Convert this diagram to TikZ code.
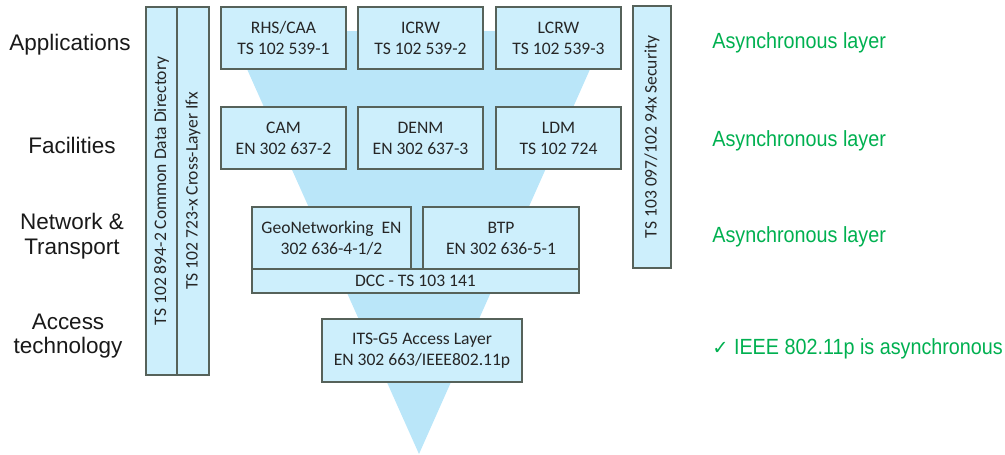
\documentclass[tikz,border=0pt]{standalone}
\usepackage{fontspec}
\setmainfont{Carlito}
\newfontfamily\layerfont{Liberation Sans}
\newfontfamily\notefont[FakeStretch=0.9]{Liberation Sans}
\newfontfamily\symfont{DejaVu Sans}
\usepackage{tikz}
\usetikzlibrary{positioning}
\definecolor{BoxFill}{HTML}{CDEFFC}
\definecolor{FunnelBlue}{HTML}{BAE6F9}
\definecolor{BoxEdge}{HTML}{56625A}
\definecolor{NoteGreen}{HTML}{00B050}
\tikzset{
  stdbox/.style={rectangle, draw=BoxEdge, fill=BoxFill, line width=0.7pt, inner sep=1pt, align=center, font=\fontsize{10}{12}\selectfont, text=black!85, minimum width=2.5cm, minimum height=1.24cm},
  sidebox/.style={stdbox, rotate=90},
  layerlabel/.style={font=\layerfont\fontsize{12.8}{14}\selectfont, align=center, text=black!90},
  asyncnote/.style={font=\notefont\fontsize{12.5}{14}\selectfont, text=NoteGreen, anchor=west, inner sep=0pt}
}

\begin{document}
\begin{tikzpicture}[x=0.02cm, y=-0.02cm]
  \useasboundingbox (0,0) rectangle (1005,454);

  % funnel behind the stack
  \fill[FunnelBlue] (230,31) -- (607,31) -- (419,454) -- cycle;

  % layer names
  \node[layerlabel] (lapp) at (70,45) {Applications};
  \node[layerlabel] (lfac) at (72,145) {Facilities};
  \node[layerlabel] (lnet) at (72,236) {Network \&\\Transport};
  \node[layerlabel] (lacc) at (68,336) {Access\\technology};

  % cross-layer columns
  \node[sidebox, minimum width=7.36cm, minimum height=0.62cm] (cdd) at (161.5,191) {TS 102 894-2 Common Data Directory};
  \node[sidebox, minimum width=7.36cm, minimum height=0.64cm] (clx) at (193,191) {TS 102 723-x Cross-Layer Ifx};
  \node[sidebox, minimum width=5.24cm, minimum height=0.76cm] (sec) at (652,137) {TS 103 097/102 94x Security};

  % applications
  \node[stdbox] (rhs) at (283.5,38) {RHS/CAA\\TS 102 539-1};
  \node[stdbox] (icrw) at (420.5,38) {ICRW\\TS 102 539-2};
  \node[stdbox] (lcrw) at (558.5,38) {LCRW\\TS 102 539-3};

  % facilities
  \node[stdbox] (cam) at (283.5,138) {CAM\\EN 302 637-2};
  \node[stdbox] (denm) at (420.5,138) {DENM\\EN 302 637-3};
  \node[stdbox] (ldm) at (558.5,138) {LDM\\TS 102 724};

  % network & transport
  \node[stdbox, minimum width=3.18cm] (geo) at (331.5,238) {GeoNetworking~ EN\\302 636-4-1/2};
  \node[stdbox, minimum width=3.12cm] (btp) at (501,238) {BTP\\EN 302 636-5-1};
  \node[stdbox, minimum width=6.54cm, minimum height=0.48cm] (dcc) at (415.5,281) {DCC - TS 103 141};

  % access
  \node[stdbox, minimum width=4cm, minimum height=1.26cm] (its) at (422,350.5) {ITS-G5 Access Layer\\EN 302 663/IEEE802.11p};

  % notes
  \node[asyncnote] (napp) at (712,43) {Asynchronous layer};
  \node[asyncnote] (nfac) at (712,141) {Asynchronous layer};
  \node[asyncnote] (nnet) at (712,237) {Asynchronous layer};
  \node[asyncnote] (nacc) at (712,349) {{\symfont\fontsize{11}{14}\selectfont ✓} IEEE 802.11p is asynchronous};
\end{tikzpicture}
\end{document}
